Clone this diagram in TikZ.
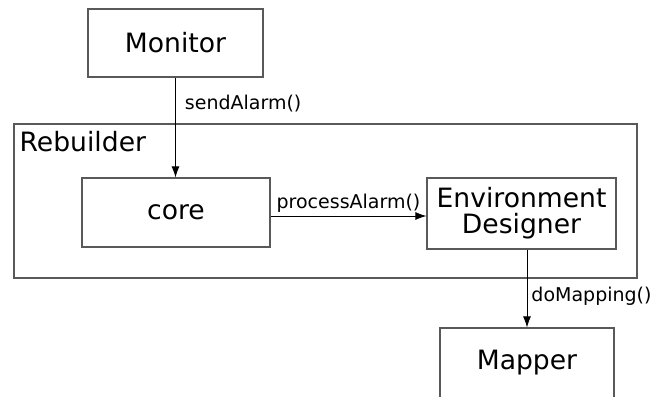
\documentclass[tikz,border=0pt]{standalone}
\usepackage{fontspec}
\setmainfont{DejaVu Sans}
\usetikzlibrary{positioning,arrows.meta}

\begin{document}
\begin{tikzpicture}[x=1pt, y=-1pt,
    comp/.style={draw=black!65, line width=1.1pt, inner sep=0pt, align=center,
        font=\fontsize{26.6}{26}\selectfont},
    lbl/.style={inner sep=0pt, font=\fontsize{19}{21}\selectfont},
    call/.style={-{Latex[length=11pt,width=8pt]}, line width=0.9pt},
    ]
    \useasboundingbox (0,0) rectangle (658,396);

    % outer frame
    \node[comp, minimum width=623pt, minimum height=154pt] (rebuilder) at (325.5,201) {};
    \node[anchor=base west, inner sep=0pt, font=\fontsize{26.6}{28}\selectfont]
        (rebuilderlbl) at ([xshift=6pt,yshift=-28pt]rebuilder.north west) {Rebuilder};

    % components
    \node[comp, minimum width=175pt, minimum height=68pt] (monitor) at (175.5,43) {Monitor};
    \node[comp, minimum width=188pt, minimum height=69pt] (core) at (176,212.5) {core};
    \node[comp, minimum width=189pt, minimum height=71pt] (designer) at (521.5,213.5) {Environment\\Designer};
    \node[comp, minimum width=174pt, minimum height=70pt] (mapper) at (527,363) {Mapper};

    % calls
    \draw[call] (monitor.south) -- (monitor.south |- core.north)
        node[lbl, pos=0.26, right=9pt] (sendlbl) {sendAlarm()};
    \draw[call] ([yshift=-3.5pt]core.east) -- ([yshift=-3.5pt]core.east -| designer.west)
        node[lbl, midway, above=3.5pt] (processlbl) {processAlarm()};
    \draw[call] (designer.south -| mapper.north) -- (mapper.north)
        node[lbl, pos=0.6, right=4pt] (mappinglbl) {doMapping()};
\end{tikzpicture}
\end{document}
